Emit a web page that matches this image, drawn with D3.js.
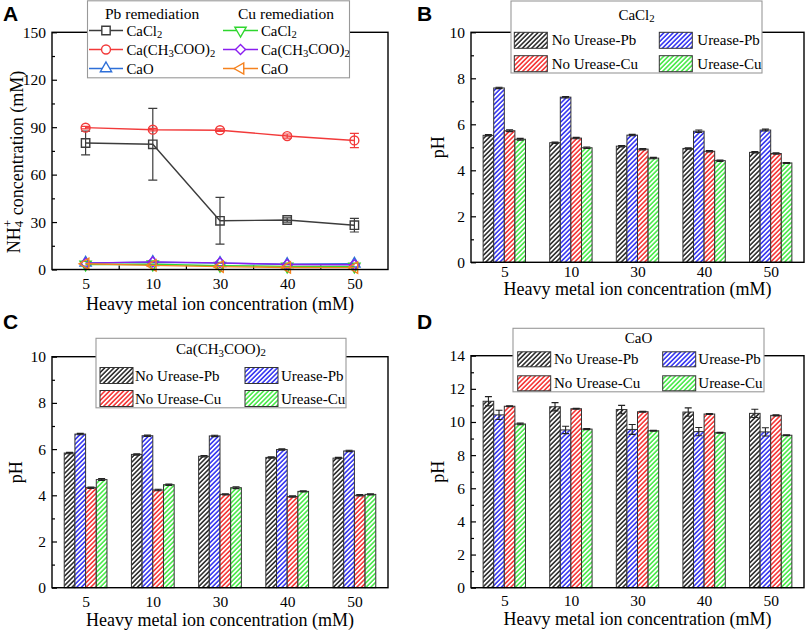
<!DOCTYPE html>
<html><head><meta charset="utf-8">
<script src="https://cdn.jsdelivr.net/npm/d3@7"></script>
<style>body{margin:0;background:#fff}svg{display:block}</style>
</head><body>
<script>
// ---------------- DATA ----------------
const categories = ["5", "10", "30", "40", "50"];

// Panel A: NH4+ concentration (mM)
const pbCaCl2 = [80.0, 79.2, 30.8, 31.3, 28.0];
const pbCaCl2Err = [7.5, 22.7, 14.8, 1.3, 4.3];
const pbCaAc = [89.7, 88.4, 88.1, 84.4, 81.6];
const pbCaAcErr = [0.8, 0.8, 0.8, 1.3, 4.5];
const pbCaO = [4.2, 4.6, 4.0, 3.3, 3.6];
const cuCaCl2 = [3.2, 3.3, 2.4, 2.0, 2.0];
const cuCaAc = [4.0, 4.8, 4.2, 3.2, 3.0];
const cuCaO = [3.6, 2.6, 1.8, 1.3, 1.2];
const yTicksA = [0, 30, 60, 90, 120, 150];

// Panel B: pH, CaCl2
const bNoUreasePb = [5.52, 5.20, 5.05, 4.95, 4.78];
const bUreasePb = [7.58, 7.18, 5.53, 5.70, 5.75];
const bNoUreaseCu = [5.72, 5.40, 4.92, 4.83, 4.73];
const bUreaseCu = [5.35, 4.98, 4.53, 4.42, 4.32];
const bErr = [[0.03,0.03,0.03,0.03,0.03],[0.03,0.03,0.03,0.05,0.04],[0.04,0.03,0.03,0.03,0.03],[0.04,0.03,0.03,0.03,0.02]];

// Panel C: pH, Ca(CH3COO)2
const cNoUreasePb = [5.83, 5.77, 5.69, 5.64, 5.61];
const cUreasePb = [6.65, 6.58, 6.57, 5.98, 5.92];
const cNoUreaseCu = [4.33, 4.23, 4.04, 3.95, 4.00];
const cUreaseCu = [4.68, 4.46, 4.33, 4.17, 4.04];
const cErr = [[0.03,0.03,0.03,0.03,0.03],[0.03,0.03,0.03,0.03,0.03],[0.03,0.03,0.03,0.03,0.03],[0.04,0.03,0.04,0.03,0.03]];

// Panel D: pH, CaO
const dNoUreasePb = [11.25, 10.92, 10.75, 10.60, 10.52];
const dUreasePb = [10.43, 9.52, 9.55, 9.42, 9.40];
const dNoUreaseCu = [10.95, 10.80, 10.62, 10.48, 10.40];
const dUreaseCu = [9.88, 9.57, 9.47, 9.35, 9.20];
const dErr = [[0.28,0.25,0.25,0.25,0.25],[0.28,0.22,0.30,0.25,0.25],[0.03,0.03,0.03,0.03,0.03],[0.05,0.03,0.03,0.03,0.03]];

const barSeries = ["No Urease-Pb", "Urease-Pb", "No Urease-Cu", "Urease-Cu"];
const barColors = ["#222222", "#2b2bf0", "#f52a2a", "#3fe83f"];

// ---------------- SETUP ----------------
const W = 809, H = 630;
const serif = "'Liberation Serif','Times New Roman',serif";
const svg = d3.select("body").append("svg").attr("width", W).attr("height", H)
  .style("font-family", serif);
svg.append("rect").attr("width", W).attr("height", H).attr("fill", "#fff");
const defs = svg.append("defs");
barColors.forEach((c, i) => {
  const p = defs.append("pattern").attr("id", "hatch" + i)
    .attr("patternUnits", "userSpaceOnUse").attr("width", 3.3).attr("height", 3.3)
    .attr("patternTransform", "rotate(45)");
  p.append("rect").attr("width", 3.3).attr("height", 3.3).attr("fill", "#fff");
  p.append("line").attr("x1", 0.9).attr("x2", 0.9).attr("y1", 0).attr("y2", 3.3)
    .attr("stroke", c).attr("stroke-width", 1.5);
});

function formula(sel, parts) {
  let prevSub = false;
  parts.forEach(([t, sub]) => {
    const ts = sel.append("tspan").text(t);
    if (sub) ts.attr("font-size", "0.72em").attr("dy", "0.3em");
    else if (prevSub) ts.attr("dy", "-0.22em");
    prevSub = !!sub;
  });
}
const fCaCl2 = [["CaCl"], ["2", true]];
const fCaAc = [["Ca(CH"], ["3", true], ["COO)"], ["2", true]];
const fCaO = [["CaO"]];

function panelLetter(txt, x, y) {
  svg.append("text").attr("x", x).attr("y", y).text(txt)
    .attr("font-family", "'Liberation Sans',Arial,sans-serif").attr("font-weight", "bold")
    .attr("font-size", 21);
}

function drawFrame(b, y, yMajor, yMinor) {
  const g = svg.append("g");
  const ax = d3.axisLeft(y).tickValues(yMajor).tickSize(-5).tickPadding(6).tickFormat(d3.format("d"));
  const ga = g.append("g").attr("transform", `translate(${b.left},0)`).call(ax);
  ga.select(".domain").remove();
  ga.selectAll("text").attr("font-size", 15.5).attr("font-family", serif).attr("fill", "#000");
  ga.selectAll("line").attr("stroke", "#000").attr("stroke-width", 1.2);
  const am = d3.axisLeft(y).tickValues(yMinor).tickSize(-3).tickFormat("");
  const gm = g.append("g").attr("transform", `translate(${b.left},0)`).call(am);
  gm.select(".domain").remove();
  gm.selectAll("text").remove();
  gm.selectAll("line").attr("stroke", "#000").attr("stroke-width", 1.2);
  return g;
}
function drawBox(b) {
  svg.append("rect").attr("x", b.left).attr("y", b.top).attr("width", b.right - b.left)
    .attr("height", b.bottom - b.top).attr("fill", "none").attr("stroke", "#000").attr("stroke-width", 1.4);
}
function xAxisLabels(b, x, labelY, titleY) {
  const ax = d3.axisBottom(x).tickSize(0).tickPadding(0);
  const g = svg.append("g").attr("transform", `translate(0,${labelY})`).call(ax);
  g.select(".domain").remove();
  g.selectAll("line").remove();
  g.selectAll("text").attr("font-size", 15.5).attr("font-family", serif).attr("fill", "#000")
    .attr("dy", "0.35em");
  svg.append("text").attr("x", (b.left + b.right) / 2).attr("y", titleY)
    .attr("text-anchor", "middle").attr("dominant-baseline", "central")
    .attr("font-size", 18).text("Heavy metal ion concentration (mM)");
}

// ---------------- PANEL A ----------------
(function () {
  const b = { left: 52, right: 388, top: 32.3, bottom: 269.5 };
  const x = d3.scalePoint().domain(categories).range([b.left, b.right]).padding(0.5);
  const y = d3.scaleLinear().domain([0, 150]).range([b.bottom, b.top]);
  drawFrame(b, y, yTicksA, d3.range(15, 150, 30));
  const st = x.step();
  categories.slice(1).forEach(c => {
    svg.append("line").attr("x1", x(c) - st / 2).attr("x2", x(c) - st / 2)
      .attr("y1", b.bottom).attr("y2", b.bottom - 4).attr("stroke", "#000").attr("stroke-width", 1.2);
  });
  const series = [
    { v: pbCaCl2, e: pbCaCl2Err, c: "#3c3c3c", sym: d3.symbolSquare, rot: 0, size: 70 },
    { v: pbCaAc, e: pbCaAcErr, c: "#f23a3a", sym: d3.symbolCircle, rot: 0, size: 62 },
    { v: pbCaO, e: null, c: "#2e6fd8", sym: d3.symbolTriangle, rot: 0, size: 55 },
    { v: cuCaCl2, e: null, c: "#2ed62e", sym: d3.symbolTriangle, rot: 180, size: 55 },
    { v: cuCaAc, e: null, c: "#8a1ef0", sym: d3.symbolSquare, rot: 45, size: 50 },
    { v: cuCaO, e: null, c: "#f5821f", sym: d3.symbolTriangle, rot: -90, size: 55 }
  ];
  const plot = svg.append("g");
  [2, 3, 4, 5, 0, 1].forEach(i => {
    const s = series[i];
    const pts = categories.map((c, j) => [x(c), y(s.v[j])]);
    plot.append("path").attr("d", d3.line()(pts)).attr("fill", "none")
      .attr("stroke", s.c).attr("stroke-width", 1.4);
    if (s.e) {
      categories.forEach((c, j) => {
        const x0 = x(c), y1 = y(s.v[j] + s.e[j]), y2 = y(s.v[j] - s.e[j]);
        plot.append("path").attr("d", `M${x0},${y1}V${y2}M${x0 - 4.5},${y1}H${x0 + 4.5}M${x0 - 4.5},${y2}H${x0 + 4.5}`)
          .attr("stroke", s.c).attr("stroke-width", 1.2).attr("fill", "none");
      });
    }
    categories.forEach((c, j) => {
      plot.append("path").attr("d", d3.symbol().type(s.sym).size(s.size)())
        .attr("transform", `translate(${x(c)},${y(s.v[j])}) rotate(${s.rot})`)
        .attr("fill", "none").attr("stroke", s.c).attr("stroke-width", 1.4);
    });
  });
  drawBox(b);
  xAxisLabels(b, x, 284, 303.5);
  const yt = svg.append("text").attr("transform", `translate(14,162) rotate(-90)`)
    .attr("text-anchor", "middle").attr("dominant-baseline", "central").attr("font-size", 18);
  yt.append("tspan").text("NH");
  yt.append("tspan").text("4").attr("font-size", "0.72em").attr("dy", "0.3em");
  yt.append("tspan").text("+").attr("font-size", "0.72em").attr("dx", "-0.5em").attr("dy", "-0.85em");
  yt.append("tspan").text(" concentration (mM)").attr("dy", "0.55em");
  const L = svg.append("g");
  L.append("rect").attr("x", 87.5).attr("y", 0.8).attr("width", 262).attr("height", 77)
    .attr("fill", "#fff").attr("stroke", "#999").attr("stroke-width", 1.1);
  const fs = 14.8;
  L.append("text").attr("x", 105).attr("y", 13.5).attr("dominant-baseline", "central").attr("font-size", 15.5).text("Pb remediation");
  L.append("text").attr("x", 238).attr("y", 13.5).attr("dominant-baseline", "central").attr("font-size", 15.5).text("Cu remediation");
  const rowsY = [30.5, 49.5, 68.5];
  const labels = [fCaCl2, fCaAc, fCaO, fCaCl2, fCaAc, fCaO];
  series.forEach((s, i) => {
    const col = i < 3 ? 0 : 1, ry = rowsY[i % 3];
    const lx0 = col ? 223 : 89, lx1 = col ? 258 : 123, mx = (lx0 + lx1) / 2, tx = col ? 261 : 126.5;
    L.append("line").attr("x1", lx0).attr("x2", lx1).attr("y1", ry).attr("y2", ry).attr("stroke", s.c).attr("stroke-width", 1.4);
    L.append("path").attr("d", d3.symbol().type(s.sym).size(s.size)())
      .attr("transform", `translate(${mx},${ry}) rotate(${s.rot})`)
      .attr("fill", "#fff").attr("stroke", s.c).attr("stroke-width", 1.4);
    const t = L.append("text").attr("x", tx).attr("y", ry).attr("dominant-baseline", "central").attr("font-size", fs);
    formula(t, labels[i]);
  });
  panelLetter("A", 3, 21);
})();

// ---------------- BAR PANELS ----------------
function barPanel(cfg) {
  const b = cfg.box;
  const x = d3.scalePoint().domain(categories).range([b.left, b.right]).padding(0.5);
  const gw = x.step() * 0.636;
  const x1 = d3.scaleBand().domain(barSeries).range([-gw / 2, gw / 2]);
  const y = d3.scaleLinear().domain([0, cfg.ymax]).range([b.bottom, b.top]);
  drawFrame(b, y, d3.range(0, cfg.ymax + 0.1, 2), d3.range(1, cfg.ymax, 2));
  const g = svg.append("g");
  cfg.data.forEach((vals, si) => {
    categories.forEach((c, j) => {
      const bx = x(c) + x1(barSeries[si]);
      g.append("rect").attr("x", bx).attr("y", y(vals[j])).attr("width", x1.bandwidth())
        .attr("height", y(0) - y(vals[j])).attr("fill", `url(#hatch${si})`)
        .attr("stroke", "#333").attr("stroke-width", 1);
      const e = cfg.err[si][j];
      const cx = bx + x1.bandwidth() / 2, ya = y(vals[j] + e), yb = y(vals[j] - e);
      g.append("path").attr("d", `M${cx},${ya}V${yb}M${cx - 3.5},${ya}H${cx + 3.5}M${cx - 3.5},${yb}H${cx + 3.5}`)
        .attr("stroke", "#222").attr("stroke-width", 1.1).attr("fill", "none");
    });
  });
  drawBox(b);
  xAxisLabels(b, x, cfg.tickY, cfg.titleY);
  svg.append("text").attr("transform", `translate(${cfg.yTitleX},${(b.top + b.bottom) / 2}) rotate(-90)`)
    .attr("text-anchor", "middle").attr("dominant-baseline", "central").attr("font-size", 18).text("pH");
  const lg = cfg.legend;
  const L = svg.append("g");
  L.append("rect").attr("x", lg.x).attr("y", lg.y).attr("width", lg.w).attr("height", lg.h)
    .attr("fill", "#fff").attr("stroke", "#999").attr("stroke-width", 1.1);
  const tt = L.append("text").attr("x", lg.x + lg.w / 2).attr("y", lg.y + lg.titleDy)
    .attr("text-anchor", "middle").attr("dominant-baseline", "central").attr("font-size", 15);
  formula(tt, cfg.title);
  barSeries.forEach((s, i) => {
    const col = i % 2, row = Math.floor(i / 2);
    const ry = lg.y + lg.rows[row];
    const sx = lg.x + (col ? lg.sw2 : lg.sw1), tx = lg.x + (col ? lg.tx2 : lg.tx1);
    L.append("rect").attr("x", sx).attr("y", ry - lg.sh / 2).attr("width", 33).attr("height", lg.sh)
      .attr("fill", `url(#hatch${i})`).attr("stroke", "#333").attr("stroke-width", 1);
    L.append("text").attr("x", tx).attr("y", ry).attr("dominant-baseline", "central")
      .attr("font-size", 15).text(s);
  });
  panelLetter(cfg.letter, cfg.letterX, cfg.letterY);
}

barPanel({
  letter: "B", letterX: 417, letterY: 21,
  box: { left: 471, right: 804, top: 32.3, bottom: 262.3 }, ymax: 10,
  data: [bNoUreasePb, bUreasePb, bNoUreaseCu, bUreaseCu], err: bErr,
  tickY: 271.5, titleY: 288.5, yTitleX: 438,
  title: fCaCl2,
  legend: { x: 511, y: 1, w: 251, h: 72, titleDy: 14, rows: [39.3, 62.7], sh: 16, sw1: 3.3, tx1: 40.7, sw2: 148.3, tx2: 186.3 }
});
barPanel({
  letter: "C", letterX: 3, letterY: 329,
  box: { left: 52, right: 388, top: 356.7, bottom: 587.7 }, ymax: 10,
  data: [cNoUreasePb, cUreasePb, cNoUreaseCu, cUreaseCu], err: cErr,
  tickY: 601.5, titleY: 619.5, yTitleX: 16,
  title: fCaAc,
  legend: { x: 96, y: 338.3, w: 250, h: 69.5, titleDy: 11, rows: [37.2, 60.2], sh: 16, sw1: 4, tx1: 39, sw2: 149, tx2: 185 }
});
barPanel({
  letter: "D", letterX: 417, letterY: 329,
  box: { left: 471, right: 804, top: 355.7, bottom: 587.7 }, ymax: 14,
  data: [dNoUreasePb, dUreasePb, dNoUreaseCu, dUreaseCu], err: dErr,
  tickY: 600.5, titleY: 618.5, yTitleX: 438,
  title: fCaO,
  legend: { x: 513, y: 328.3, w: 251, h: 63.5, titleDy: 9.7, rows: [31, 55], sh: 15, sw1: 4.7, tx1: 41, sw2: 149.7, tx2: 185.3 }
});
</script>
</body></html>
